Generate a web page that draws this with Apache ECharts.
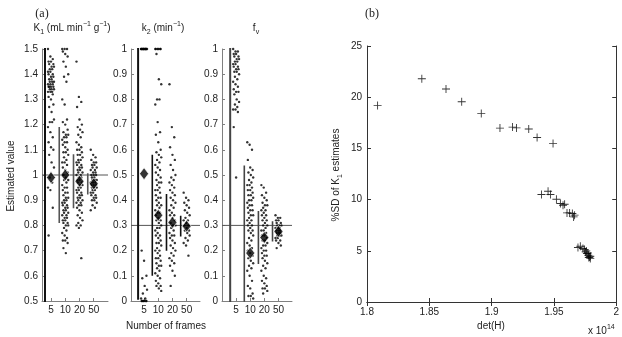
<!DOCTYPE html>
<html>
<head>
<meta charset="utf-8">
<script src="https://cdn.jsdelivr.net/npm/echarts@6/dist/echarts.min.js"></script>
<style>html,body{margin:0;background:#fff}#chart{width:622px;height:337px}</style>
</head>
<body>
<div id="chart"></div>
<script>
// categories (number of frames)
var frames = ['5', '10', '20', '50'];

// K1 estimates for 5, 10, 20, 50 frames
var k1F5 = [1.50,1.47,1.46,1.45,1.45,1.44,1.44,1.43,1.43,1.42,1.42,1.41,1.41,1.40,1.40,1.39,1.39,1.38,1.38,1.37,1.37,1.37,1.36,1.36,1.36,1.35,1.35,1.35,1.35,1.34,1.34,1.34,1.33,1.33,1.33,1.32,1.31,1.30,1.28,1.27,1.25,1.22,1.21,1.21,1.19,1.17,1.15,1.13,1.11,1.10,1.08,1.05,1.03,0.99,0.97,0.95,0.94,0.87,0.76];
var k1F10 = [1.50,1.50,1.50,1.49,1.48,1.47,1.45,1.43,1.40,1.39,1.37,1.30,1.28,1.22,1.21,1.20,1.18,1.17,1.16,1.16,1.15,1.15,1.14,1.13,1.13,1.12,1.11,1.10,1.09,1.09,1.08,1.07,1.06,1.05,1.05,1.04,1.03,1.02,1.01,1.00,0.99,0.98,0.98,0.97,0.96,0.95,0.95,0.94,0.93,0.93,0.92,0.91,0.91,0.90,0.90,0.89,0.89,0.88,0.88,0.87,0.87,0.86,0.86,0.85,0.85,0.84,0.84,0.83,0.83,0.82,0.82,0.81,0.81,0.80,0.80,0.79,0.78,0.77,0.76,0.75,0.74,0.74,0.73,0.71,0.69];
var k1F20 = [1.45,1.31,1.29,1.27,1.22,1.20,1.19,1.18,1.17,1.16,1.15,1.13,1.12,1.11,1.10,1.10,1.09,1.08,1.08,1.07,1.06,1.06,1.05,1.05,1.04,1.04,1.03,1.03,1.02,1.02,1.01,1.01,1.00,1.00,0.99,0.99,0.98,0.98,0.97,0.97,0.96,0.96,0.95,0.95,0.94,0.94,0.93,0.93,0.92,0.92,0.91,0.91,0.90,0.90,0.89,0.89,0.88,0.88,0.87,0.86,0.85,0.84,0.83,0.82,0.81,0.80,0.80,0.79,0.67];
var k1F50 = [1.10,1.08,1.07,1.06,1.05,1.05,1.04,1.04,1.03,1.03,1.02,1.02,1.01,1.01,1.00,1.00,1.00,0.99,0.99,0.98,0.98,0.98,0.97,0.97,0.97,0.96,0.96,0.96,0.95,0.95,0.95,0.94,0.94,0.93,0.93,0.92,0.92,0.91,0.91,0.90,0.90,0.89,0.88,0.87,0.86];
var k1Mean = [0.99, 1.00, 0.975, 0.965];
var k1Sd = [0.60, 0.19, 0.107, 0.042];

// k2 estimates
var k2F5 = [1.0,1.0,1.0,1.0,1.0,1.0,1.0,1.0,1.0,1.0,1.0,1.0,1.0,1.0,0.20,0.16,0.10,0.09,0.06,0.045,0.03,0.01,0.01,0.0,0.0,0.0,0.0,0.0,0.0];
var k2F10 = [1.0,1.0,1.0,1.0,1.0,1.0,0.98,0.88,0.86,0.80,0.80,0.78,0.71,0.67,0.66,0.63,0.60,0.59,0.58,0.57,0.56,0.55,0.54,0.53,0.52,0.51,0.50,0.49,0.48,0.47,0.47,0.46,0.45,0.44,0.44,0.43,0.42,0.41,0.41,0.40,0.39,0.38,0.38,0.37,0.36,0.35,0.35,0.34,0.33,0.32,0.32,0.31,0.30,0.29,0.29,0.28,0.27,0.26,0.26,0.25,0.24,0.23,0.23,0.22,0.21,0.20,0.20,0.19,0.18,0.17,0.17,0.16,0.15,0.14,0.14,0.13,0.12,0.11,0.10,0.09,0.08,0.07,0.06,0.06,0.05,0.04];
var k2F20 = [0.86,0.69,0.65,0.61,0.58,0.56,0.54,0.52,0.50,0.49,0.48,0.47,0.46,0.45,0.44,0.43,0.42,0.41,0.40,0.39,0.38,0.37,0.36,0.35,0.34,0.34,0.33,0.32,0.31,0.30,0.30,0.29,0.28,0.27,0.26,0.26,0.25,0.24,0.23,0.22,0.21,0.20,0.19,0.18,0.17,0.16,0.15,0.14,0.12,0.10,0.06];
var k2F50 = [0.43,0.41,0.40,0.39,0.38,0.37,0.36,0.35,0.34,0.33,0.32,0.32,0.31,0.30,0.30,0.29,0.28,0.28,0.27,0.26,0.25,0.24,0.23,0.22,0.18];
var k2Mean = [0.505, 0.34, 0.312, 0.297];
var k2Sd = [0.50, 0.24, 0.113, 0.041];

// fv estimates
var fvF5 = [1.0,0.99,0.99,0.98,0.98,0.97,0.97,0.96,0.96,0.95,0.95,0.94,0.94,0.93,0.93,0.92,0.92,0.91,0.91,0.90,0.89,0.88,0.87,0.86,0.85,0.84,0.83,0.83,0.82,0.80,0.79,0.78,0.77,0.76,0.76,0.75,0.69,0.49];
var fvF10 = [0.63,0.62,0.60,0.56,0.53,0.52,0.51,0.50,0.49,0.48,0.47,0.46,0.46,0.45,0.44,0.44,0.43,0.42,0.42,0.41,0.40,0.40,0.39,0.38,0.38,0.37,0.36,0.36,0.35,0.34,0.34,0.33,0.32,0.32,0.31,0.30,0.30,0.29,0.28,0.28,0.27,0.26,0.25,0.24,0.23,0.22,0.21,0.20,0.19,0.18,0.17,0.16,0.15,0.14,0.13,0.12,0.10,0.08,0.06,0.05,0.03,0.02,0.02,0.01];
var fvF20 = [0.46,0.45,0.43,0.42,0.41,0.40,0.39,0.38,0.38,0.37,0.36,0.36,0.35,0.34,0.34,0.33,0.32,0.32,0.31,0.30,0.30,0.29,0.28,0.28,0.27,0.26,0.26,0.25,0.24,0.24,0.23,0.22,0.22,0.21,0.20,0.20,0.19,0.18,0.18,0.17,0.16,0.15,0.14,0.13,0.12,0.10,0.09,0.08,0.07,0.06,0.05,0.05,0.04,0.03];
var fvF50 = [0.34,0.33,0.33,0.32,0.32,0.31,0.31,0.30,0.30,0.30,0.29,0.29,0.29,0.28,0.28,0.28,0.27,0.27,0.27,0.26,0.26,0.26,0.25,0.25,0.24,0.24,0.23,0.22,0.21];
var fvMean = [1.15, 0.19, 0.252, 0.276];
var fvSd = [1.20, 0.348, 0.105, 0.04];

// true values (reference lines)
var trueVals = [1.0, 0.3, 0.3];

// panel (b): det(H) (x 1e14) and %SD of K1
var detH = [1.8085,1.844,1.8634,1.876,1.8917,1.9067,1.9168,1.920,1.9298,1.9365,1.9493,
  1.940,1.9453,1.9472,1.952,1.9552,1.9573,1.9586,1.9605,1.9626,1.9648,1.9666,1.9658,
  1.9693,1.9712,1.9733,1.9746,1.976,1.9765,1.9776,1.9786,1.9792,1.9773,1.9754,1.978,1.9792];
var sdK1 = [19.2,21.8,20.8,19.55,18.42,16.98,17.08,17.0,16.89,16.07,15.49,
  10.5,10.82,10.5,10.04,9.62,9.45,9.55,8.7,8.7,8.64,8.48,8.31,
  5.32,5.45,5.22,5.12,4.99,4.73,4.57,4.4,4.24,4.79,4.89,4.34,4.47];

var chart = echarts.init(document.getElementById('chart'));
var FONT = 'Liberation Sans';

// horizontal spread of the strip dots around their category
function jit(i) { return (((i * 37) % 11) / 10 - 0.5) * 0.42; }

var panels = [
  { pts: [k1F5, k1F10, k1F20, k1F50], mean: k1Mean, sd: k1Sd, left: 42, width: 66, xmin: 0.37, xmax: 5.0, ymin: 0.5, ymax: 1.5, barColor: ['#111', '#555', '#555', '#555'] },
  { pts: [k2F5, k2F10, k2F20, k2F50], mean: k2Mean, sd: k2Sd, left: 131, width: 69, xmin: 0.08, xmax: 4.94, ymin: 0, ymax: 1, barColor: ['#111', '#111', '#111', '#111'] },
  { pts: [fvF5, fvF10, fvF20, fvF50], mean: fvMean, sd: fvSd, left: 222, width: 70, xmin: 0, xmax: 4.96, ymin: 0, ymax: 1, barColor: ['#444', '#444', '#444', '#444'] }
];

var grids = [], xAxes = [], yAxes = [], series = [];
panels.forEach(function (p, k) {
  grids.push({ left: p.left, top: 49, width: p.width, height: 252 });
  xAxes.push({
    type: 'value', gridIndex: k, min: p.xmin, max: p.xmax,
    axisLine: { lineStyle: { color: '#808080', width: 1 } },
    axisTick: { inside: true, length: 3, lineStyle: { color: '#808080' }, customValues: [1, 2, 3, 4] },
    axisLabel: { customValues: [1, 2, 3, 4], formatter: function (v) { return frames[Math.round(v) - 1]; },
      color: '#222', fontSize: 10, fontFamily: FONT, margin: 4 },
    splitLine: { show: false }
  });
  yAxes.push({
    type: 'value', gridIndex: k, min: p.ymin, max: p.ymax, interval: 0.1,
    axisLine: { show: true, lineStyle: { color: '#808080', width: 1 } },
    axisTick: { show: true, inside: true, length: 3, lineStyle: { color: '#808080' } },
    axisLabel: { formatter: function (v) { return String(+v.toFixed(1)); }, color: '#222', fontSize: 10, fontFamily: FONT, margin: 4 },
    splitLine: { show: false }
  });
  // reference line at the true value
  series.push({
    type: 'line', xAxisIndex: k, yAxisIndex: k, silent: true, symbol: 'none',
    lineStyle: { color: '#555', width: 1 }, z: 1,
    data: [[p.xmin, trueVals[k]], [p.xmax, trueVals[k]]]
  });
  p.pts.forEach(function (vals, j) {
    series.push({
      type: 'scatter', xAxisIndex: k, yAxisIndex: k, silent: true, symbolSize: 2.4,
      itemStyle: { color: '#000' }, z: 3,
      data: vals.map(function (v, i) { return [j + 1 + jit(i), v]; })
    });
    // mean +/- SD bar
    series.push({
      type: 'line', xAxisIndex: k, yAxisIndex: k, silent: true, symbol: 'none',
      lineStyle: { color: p.barColor[j], width: j === 0 ? 2 : 1.6 }, z: 2,
      data: [[j + 1 - 0.42, p.mean[j] - p.sd[j]], [j + 1 - 0.42, p.mean[j] + p.sd[j]]]
    });
  });
  series.push({
    type: 'scatter', xAxisIndex: k, yAxisIndex: k, silent: true, symbol: 'diamond',
    symbolSize: [9, 12], itemStyle: { color: '#000', borderColor: '#fff', borderWidth: 0.8 }, z: 5,
    data: p.mean.map(function (m, j) { return [j + 1, m]; })
  });
});

// panel (b)
grids.push({ left: 367, top: 46, width: 250, height: 256 });
var bAxisLine = { show: true, lineStyle: { color: '#333', width: 1 } };
var bTick = { show: true, inside: true, length: 4, lineStyle: { color: '#333' } };
xAxes.push({
  type: 'value', gridIndex: 3, min: 1.8, max: 2, interval: 0.05,
  axisLine: bAxisLine, axisTick: bTick, splitLine: { show: false },
  axisLabel: { formatter: function (v) { return String(+v.toFixed(2)); }, color: '#222', fontSize: 10, fontFamily: FONT, margin: 5 }
});
xAxes.push({
  type: 'value', gridIndex: 3, position: 'top', min: 1.8, max: 2, interval: 0.05,
  axisLine: bAxisLine, axisTick: bTick, axisLabel: { show: false }, splitLine: { show: false }
});
yAxes.push({
  type: 'value', gridIndex: 3, min: 0, max: 25, interval: 5,
  axisLine: bAxisLine, axisTick: bTick, splitLine: { show: false },
  axisLabel: { color: '#222', fontSize: 10, fontFamily: FONT, margin: 5 }
});
yAxes.push({
  type: 'value', gridIndex: 3, position: 'right', min: 0, max: 25, interval: 5,
  axisLine: bAxisLine, axisTick: bTick, axisLabel: { show: false }, splitLine: { show: false }
});
series.push({
  type: 'scatter', xAxisIndex: 3, yAxisIndex: 3, silent: true,
  symbol: 'path://M4.45,0h1.1v10h-1.1zM0,4.45h10v1.1h-10z', symbolSize: 8,
  itemStyle: { color: '#000' },
  data: detH.map(function (x, i) { return [x, sdK1[i]]; })
});

var rich = {
  n: { fontSize: 10, fontFamily: FONT, color: '#222', lineHeight: 15 },
  sub: { fontSize: 7, fontFamily: FONT, color: '#222', verticalAlign: 'bottom', lineHeight: 9 },
  sup: { fontSize: 7, fontFamily: FONT, color: '#222', verticalAlign: 'top', lineHeight: 9 }
};
function txt(x, y, text, opts) {
  opts = opts || {};
  return {
    type: 'text', x: x, y: y, rotation: opts.rot || 0, silent: true,
    style: {
      text: text, rich: rich, fill: '#222', align: opts.align || 'center', verticalAlign: 'middle',
      fontSize: opts.size || 10, fontFamily: opts.family || FONT
    }
  };
}

var option = {
  animation: false,
  grid: grids,
  xAxis: xAxes,
  yAxis: yAxes,
  series: series,
  graphic: [
    txt(42, 14, '(a)', { size: 12, family: 'Liberation Serif' }),
    txt(372, 14, '(b)', { size: 12, family: 'Liberation Serif' }),
    txt(72, 28, '{n|K}{sub|1}{n| (mL min}{sup|−1}{n| g}{sup|−1}{n|)}'),
    txt(163, 28, '{n|k}{sub|2}{n| (min}{sup|−1}{n|)}'),
    txt(256, 28, '{n|f}{sub|v}'),
    txt(11, 176, 'Estimated value', { rot: Math.PI / 2 }),
    txt(166, 326, 'Number of frames'),
    txt(336, 175, '{n|%SD of K}{sub|1}{n| estimates}', { rot: Math.PI / 2 }),
    txt(491, 326, 'det(H)'),
    txt(588, 331, '{n|x 10}{sup|14}', { align: 'left' })
  ]
};
chart.setOption(option);
</script>
</body>
</html>
